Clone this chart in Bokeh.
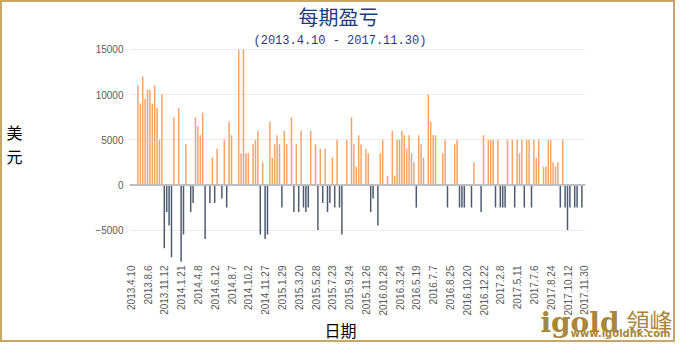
import math
from bokeh.plotting import figure
from bokeh.models import Range1d, FixedTicker, Span, Title
from bokeh.embed import file_html
from bokeh.resources import INLINE

title_text = "每期盈亏"
subtitle_text = "(2013.4.10 - 2017.11.30)"
y_label_text = "美\n元\n"
x_label_text = "日期"
logo_word = "igold"
logo_cjk = "領峰"
logo_url = "www.igoldhk.com"

tick_labels = ["2013.4.10", "2013.8.6", "2013.11.12", "2014.1.21", "2014.4.8",
               "2014.6.12", "2014.8.7", "2014.10.2", "2014.11.27", "2015.1.29",
               "2015.3.20", "2015.5.28", "2015.7.23", "2015.9.24", "2015.11.26",
               "2016.01.28", "2016.3.24", "2016.5.19", "2016.7.7", "2016.8.25",
               "2016.10.20", "2016.12.22", "2017.2.8", "2017.5.11", "2017.7.6",
               "2017.8.24", "2017.10.12", "2017.11.30"]
tick_step = 7
y_ticks = [-5000, 0, 5000, 10000, 15000]

# profit / loss per period (USD), one value per period
pnl = [
    0, 0, 0, 11000, 9000, 12000, 9500, 10500, 10500, 9000,
    11000, 8500, 5000, 10000, -7000, -3000, -4500, -8000, 7500, 0,
    8500, -8500, -5500, 4500, 0, -3000, -2000, 7500, 6500, 5500,
    8000, -6000, 0, -2000, 3000, -2000, 4000, 0, -1500, 5000,
    -2500, 7000, 5500, 0, 0, 15000, 3500, 15000, 3500, 3500,
    0, 4500, 5000, 6000, -5500, 2500, -6000, -5500, 7000, 3000,
    4500, 5500, 4500, -2500, 6000, 4500, 0, 7500, -3000, 4500,
    -3000, 6000, -2500, -3000, -2500, 6000, 0, 4500, -5000, 4000,
    -2000, 4000, -3000, -2000, 3000, -2500, 5000, -2500, -5500, 0,
    5000, 0, 7500, 4500, 2000, 5500, 4500, 0, 4000, 3500,
    -3000, -1500, 0, -4500, 3500, 5000, 0, 1000, 0, 6000,
    1000, 5000, 5000, 6000, 5500, 4000, 5500, 3500, 2500, -2500,
    5500, 4500, 3000, 0, 10000, 7000, 5500, 5500, 0, 0,
    3500, 5000, -2500, 0, 0, 4500, 5000, -2500, -2500, -2500,
    0, 0, -2500, 2500, 0, 0, -3000, 5500, 0, 5000,
    5000, 5000, -2500, 5000, -2500, -2500, -2500, 5000, 0, 5000,
    -2500, 5000, 3500, 5000, -2500, 5000, 5000, -2500, 5000, 3000,
    5000, 0, 2000, 2000, 5000, 5000, 2500, 2000, 2500, -2500,
    5000, -2500, -5000, -2500, 0, -2500, -2500, 0, -2500, 0,
]

n = len(pnl)
pos_x = [i for i, v in enumerate(pnl) if v > 0]
pos_v = [v for v in pnl if v > 0]
neg_x = [i for i, v in enumerate(pnl) if v < 0]
neg_v = [v for v in pnl if v < 0]
tick_pos = list(range(0, n, tick_step))

GOLD = "#A8863A"
NAVY = "#1F3A7A"
GRAY = "#595959"

p = figure(width=675, height=342, output_backend="svg", toolbar_location=None,
           x_range=Range1d(-0.5, n - 0.5), y_range=Range1d(-8700, 15100),
           min_border_left=127, min_border_right=92, min_border_top=46,
           min_border_bottom=81)
p.styles = {"border": "2px solid #C6A866"}
p.outline_line_color = None
p.background_fill_color = "white"
p.border_fill_color = "white"

p.vbar(x=pos_x, top=pos_v, bottom=0, width=0.62, fill_color="#F4A468",
       line_color=None)
p.vbar(x=neg_x, top=neg_v, bottom=0, width=0.62, fill_color="#4D5B70",
       line_color=None)

p.add_layout(Span(location=0, dimension="width", line_color="#BFBFBF",
                  line_width=2))

# y axis
p.yaxis.ticker = FixedTicker(ticks=y_ticks)
p.yaxis.axis_line_color = None
p.yaxis.major_tick_line_color = None
p.yaxis.major_tick_out = 0
p.yaxis.major_tick_in = 0
p.yaxis.minor_tick_line_color = None
p.yaxis.major_label_standoff = 6
p.yaxis.major_label_text_font = "Liberation Sans"
p.yaxis.major_label_text_font_size = "10px"
p.yaxis.major_label_text_color = GRAY
p.yaxis.axis_label = y_label_text
p.yaxis.axis_label_text_font = "Noto Sans CJK SC"
p.yaxis.axis_label_text_font_size = "16px"
p.yaxis.axis_label_text_font_style = "normal"
p.yaxis.axis_label_text_color = "black"
p.yaxis.axis_label_text_line_height = 1.0
p.yaxis.axis_label_standoff = 70
try:
    p.yaxis.axis_label_orientation = "horizontal"
except Exception:
    pass

# x axis
p.xaxis.ticker = FixedTicker(ticks=tick_pos)
p.xaxis.major_label_overrides = {t: lab for t, lab in zip(tick_pos, tick_labels)}
p.xaxis.major_label_orientation = math.pi / 2
p.xaxis.axis_line_color = None
p.xaxis.major_tick_line_color = None
p.xaxis.major_tick_out = 0
p.xaxis.major_tick_in = 0
p.xaxis.minor_tick_line_color = None
p.xaxis.major_label_standoff = 2
p.xaxis.major_label_text_font = "Liberation Sans"
p.xaxis.major_label_text_font_size = "10px"
p.xaxis.major_label_text_color = GRAY

p.xgrid.visible = False
p.ygrid.ticker = FixedTicker(ticks=y_ticks)
p.ygrid.grid_line_color = "#EBEBEB"
p.ygrid.grid_line_width = 1

# titles above the plot area
p.add_layout(Title(text=subtitle_text, align="left", offset=124,
                   vertical_align="top", standoff=-29,
                   text_font="Liberation Mono", text_font_size="12px",
                   text_font_style="normal", text_color=NAVY), "above")
p.add_layout(Title(text=title_text, align="left", offset=169,
                   vertical_align="top", standoff=-94,
                   text_font="Noto Sans CJK SC", text_font_size="20px",
                   text_font_style="normal", text_color=NAVY), "above")

# texts below the axis
p.add_layout(Title(text=x_label_text, align="left", offset=195,
                   vertical_align="bottom", standoff=-46,
                   text_font="Noto Sans CJK SC", text_font_size="16px",
                   text_font_style="normal", text_color="black"), "below")
p.add_layout(Title(text=logo_word, align="right", offset=-34,
                   vertical_align="bottom", standoff=-40,
                   text_font="DejaVu Serif", text_font_size="28px",
                   text_font_style="bold", text_color=GOLD), "below")
p.add_layout(Title(text=logo_cjk, align="right", offset=-87,
                   vertical_align="bottom", standoff=-36,
                   text_font="Noto Sans CJK TC", text_font_size="23px",
                   text_font_style="normal", text_color=GOLD), "below")
p.add_layout(Title(text=logo_url, align="right", offset=-85,
                   vertical_align="bottom", standoff=-40,
                   text_font="DejaVu Sans", text_font_size="10px",
                   text_font_style="bold", text_color=GOLD), "below")

open("out.html", "w").write(file_html(p, INLINE))
